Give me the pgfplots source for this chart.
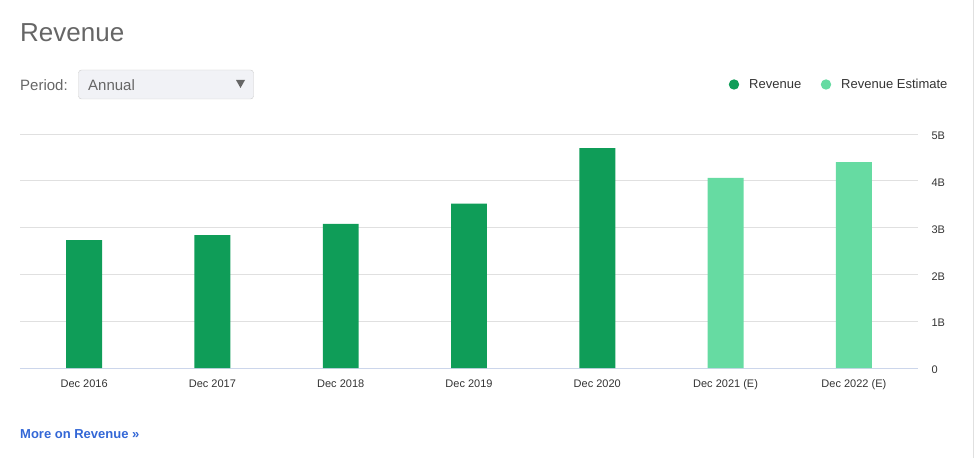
\documentclass[border=0pt]{standalone}
\usepackage{pgfplots}
\pgfplotsset{compat=1.18}
\usepackage{fontspec}
\setmainfont{Liberation Sans}
\definecolor{revgreen}{HTML}{0F9D58}
\definecolor{estgreen}{HTML}{66DBA2}
\definecolor{gridgray}{HTML}{E0E0E0}
\definecolor{axisblue}{HTML}{CCD6EB}
\definecolor{txtgray}{HTML}{666666}
\definecolor{lblgray}{HTML}{333333}
\definecolor{linkblue}{HTML}{3367D6}
\definecolor{boxborder}{HTML}{CCCCCC}
\definecolor{boxfill}{HTML}{F1F2F6}
\begin{document}
\begin{tikzpicture}[x=1pt,y=1pt]
\useasboundingbox (0,0) rectangle (976,458);
\draw[gridgray] (973.5,0) -- (973.5,458);
% title and period selector
\node[anchor=base west,inner sep=0,font=\fontsize{26}{30}\selectfont,text=txtgray] at (20,416) {Revenue};
\node[anchor=base west,inner sep=0,font=\fontsize{15}{18}\selectfont,text=txtgray] at (20,367) {Period:};
\draw[draw=boxborder,fill=boxfill,rounded corners=3pt] (78.5,359) rectangle (253.5,388);
\node[anchor=base west,inner sep=0,font=\fontsize{15}{18}\selectfont,text=txtgray] at (88,367) {Annual};
\fill[txtgray] (236,378) -- (245,378) -- (240.5,370) -- cycle;
% legend
\fill[revgreen] (734,373.5) circle (5.2);
\node[anchor=base west,inner sep=0,font=\fontsize{13}{16}\selectfont,text=lblgray] at (749,369) {Revenue};
\fill[estgreen] (826,373.5) circle (5.2);
\node[anchor=base west,inner sep=0,font=\fontsize{13}{16}\selectfont,text=lblgray] at (841,369) {Revenue Estimate};
% link
\node[anchor=base west,inner sep=0,font=\fontsize{13}{16}\selectfont\bfseries,text=linkblue] at (20,20) {More on Revenue »};
\begin{axis}[
    at={(20pt,90pt)}, anchor=south west,
    scale only axis, width=898pt, height=234pt,
    xmin=-0.5, xmax=6.5, ymin=0, ymax=5,
    axis x line*=bottom, axis y line*=right,
    x axis line style={axisblue, line width=1pt},
    y axis line style={draw=none},
    xtick={0,...,6},
    xticklabels={Dec 2016,Dec 2017,Dec 2018,Dec 2019,Dec 2020,Dec 2021 (E),Dec 2022 (E)},
    ytick={0,1,2,3,4,5},
    yticklabels={0,1B,2B,3B,4B,5B},
    yticklabel pos=right,
    tick style={draw=none},
    ymajorgrids, major grid style={gridgray, line width=1pt},
    ticklabel style={font=\fontsize{11}{13}\selectfont, text=lblgray},
    yticklabel style={anchor=west, xshift=10pt, yshift=-2pt},
    xticklabel style={yshift=-8pt},
    /pgf/number format/assume math mode=true,
    bar width=0.28,
]
\addplot[ybar, bar shift=0pt, fill=revgreen, draw=none] coordinates {
    (0,2.73) (1,2.84) (2,3.08) (3,3.51) (4,4.70)
};
\addplot[ybar, bar shift=0pt, fill=estgreen, draw=none] coordinates {
    (5,4.06) (6,4.40)
};
\end{axis}
\end{tikzpicture}
\end{document}
